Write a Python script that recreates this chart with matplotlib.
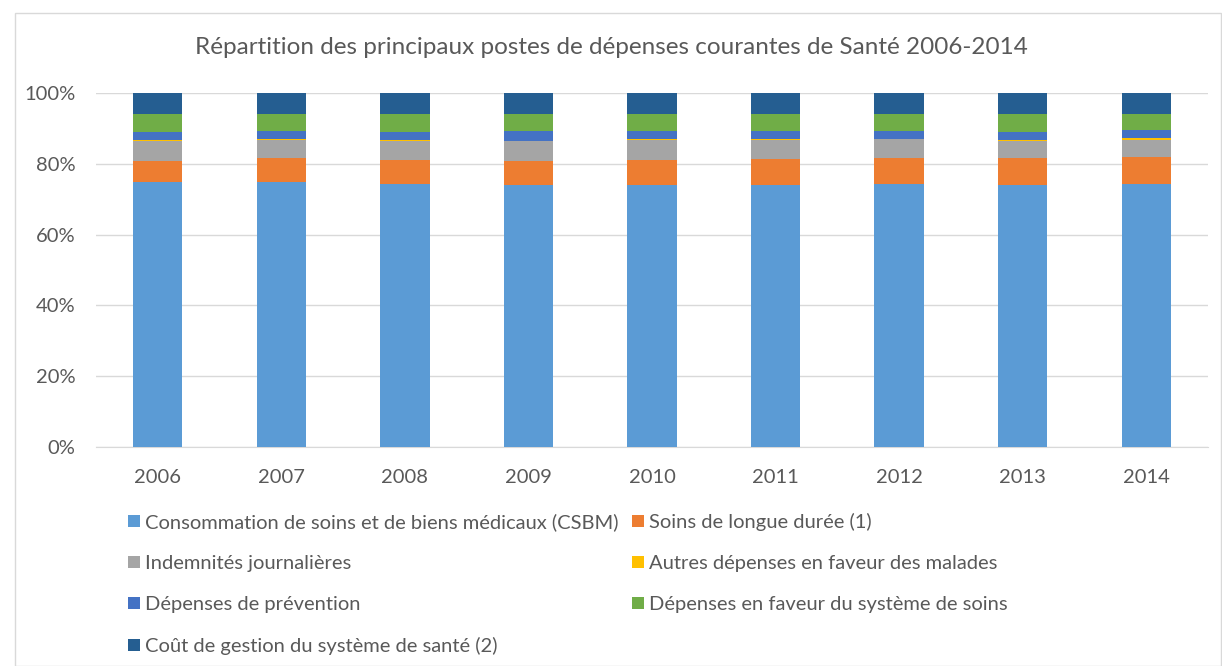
import matplotlib
matplotlib.use("Agg")
import matplotlib.pyplot as plt
from matplotlib.patches import Patch, Rectangle
import numpy as np

years = ["2006", "2007", "2008", "2009", "2010", "2011", "2012", "2013", "2014"]
series_names = [
    "Consommation de soins et de biens médicaux (CSBM)",
    "Soins de longue durée (1)",
    "Indemnités journalières",
    "Autres dépenses en faveur des malades",
    "Dépenses de prévention",
    "Dépenses en faveur du système de soins",
    "Coût de gestion du système de santé (2)",
]
csbm = [74.8, 74.9, 74.3, 73.9, 74.0, 74.1, 74.3, 74.0, 74.3]
sld = [6.1, 6.6, 6.8, 7.0, 7.2, 7.2, 7.3, 7.6, 7.6]
ij = [5.6, 5.3, 5.3, 5.5, 5.5, 5.5, 5.3, 4.9, 4.9]
autres = [0.1, 0.1, 0.2, 0.1, 0.2, 0.2, 0.2, 0.3, 0.5]
prevention = [2.5, 2.45, 2.4, 2.8, 2.35, 2.25, 2.2, 2.3, 2.3]
systeme = [5.1, 4.85, 5.1, 4.8, 4.85, 4.85, 4.8, 5.0, 4.5]
gestion = [5.9, 5.9, 5.9, 5.9, 5.9, 5.9, 5.9, 5.9, 5.9]
colors = ["#5B9BD5", "#ED7D31", "#A5A5A5", "#FFC000", "#4472C4", "#70AD47", "#255E91"]

data = [csbm, sld, ij, autres, prevention, systeme, gestion]

plt.rcParams['font.family'] = ['Lato', 'DejaVu Sans']
txt = "#595959"

fig = plt.figure(figsize=(12.22, 6.66), dpi=100)
fig.patches.append(Rectangle((15/1222, 0), (1222-15)/1222 - 0.001, (666-13)/666,
                             transform=fig.transFigure, fill=False,
                             edgecolor="#D9D9D9", linewidth=1))
ax = fig.add_axes([96/1222, 1 - 447/666, (1208-96)/1222, (447-93)/666])

x = np.arange(len(years))
bottom = np.zeros(len(years))
for vals, col, name in zip(data, colors, series_names):
    v = np.array(vals) / 100.0
    ax.bar(x, v, bottom=bottom, width=0.4, color=col, label=name, zorder=3)
    bottom += v

ax.set_ylim(0, 1)
ax.set_xlim(-0.5, len(years) - 0.5)
ax.set_yticks(np.arange(0, 1.01, 0.2))
ax.set_yticklabels([f"{int(t*100)}%" for t in np.arange(0, 1.01, 0.2)])
ax.set_xticks(x)
ax.set_xticklabels(years)
ax.yaxis.grid(True, color="#D9D9D9", linewidth=1, zorder=0)
ax.set_axisbelow(True)
for s in ["left", "right", "top"]:
    ax.spines[s].set_visible(False)
ax.spines["bottom"].set_color("#D9D9D9")
ax.tick_params(axis="both", length=0, labelsize=14.5, colors=txt)
ax.tick_params(axis="x", pad=16)
ax.tick_params(axis="y", pad=15)

fig.text(0.5, 1 - 48/666, "Répartition des principaux postes de dépenses courantes de Santé 2006-2014",
         ha="center", va="center", fontsize=17.5, color=txt)

handles = [Patch(facecolor=c) for c in colors]
order = [0, 2, 4, 6, 1, 3, 5]
leg = fig.legend([handles[i] for i in order], [series_names[i] for i in order],
                 ncol=2, loc="upper left", bbox_to_anchor=(128/1222, 1 - 513/666),
                 frameon=False, fontsize=14.5, labelspacing=1.19,
                 handlelength=0.6, handleheight=0.6, handletextpad=0.25,
                 columnspacing=0.65, borderaxespad=0, borderpad=0)
for t in leg.get_texts():
    t.set_color(txt)

fig.savefig("out.png", dpi=100)
